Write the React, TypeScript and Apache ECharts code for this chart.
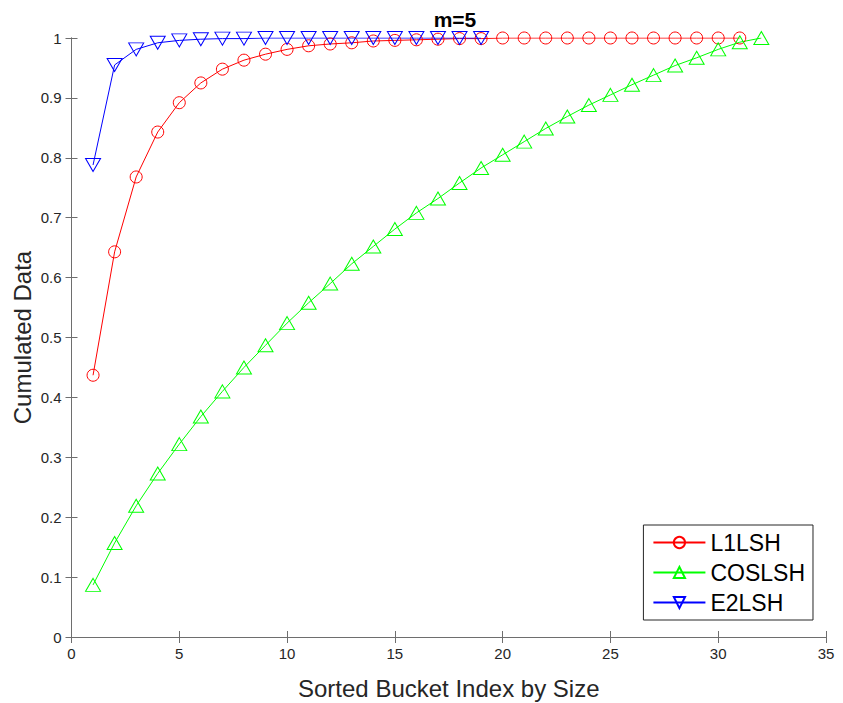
import React, { useEffect, useRef } from "react";
import * as echarts from "echarts";

const xTicks = [0, 5, 10, 15, 20, 25, 30, 35];
const yTicks = [0, 0.1, 0.2, 0.3, 0.4, 0.5, 0.6, 0.7, 0.8, 0.9, 1];

const l1lsh = [
  0.437, 0.643, 0.768, 0.843, 0.892, 0.925, 0.948, 0.963, 0.973, 0.981,
  0.987, 0.99, 0.992, 0.995, 0.996, 0.997, 0.998, 0.999, 0.999, 1,
  1, 1, 1, 1, 1, 1, 1, 1, 1, 1, 1,
];
const coslsh = [
  0.087, 0.157, 0.219, 0.273, 0.322, 0.368, 0.41, 0.45, 0.487, 0.524,
  0.558, 0.59, 0.623, 0.652, 0.681, 0.708, 0.732, 0.758, 0.783, 0.805,
  0.827, 0.849, 0.869, 0.888, 0.905, 0.922, 0.938, 0.954, 0.967, 0.981,
  0.993, 1.0,
];
const e2lsh = [
  0.788, 0.955, 0.981, 0.992, 0.996, 0.998, 0.999, 0.999, 1, 1,
  1, 1, 1, 1, 1, 1, 1, 1, 1,
];

const pairs = (arr: number[]) => arr.map((v, i) => [i + 1, v]);

export default function App() {
  const ref = useRef<HTMLDivElement>(null);
  useEffect(() => {
    const chart = echarts.init(ref.current!, null, { renderer: "svg" });
    const font = "Liberation Sans, Arial, Helvetica, sans-serif";
    const axisColor = "#6e6e6e";
    const labelColor = "#262626";
    const baseAxis = {
      axisLine: { show: true, lineStyle: { color: axisColor, width: 1 } },
      axisTick: { show: true, inside: true, length: 6, lineStyle: { color: axisColor } },
      splitLine: { show: false },
    };
    const mkSeries = (name: string, data: number[], color: string, symbol: string, size: any, rotate = 0) => ({
      name,
      type: "line",
      data: pairs(data),
      symbol,
      symbolSize: size,
      symbolRotate: rotate,
      showSymbol: true,
      lineStyle: { color, width: 1 },
      itemStyle: { color: "rgba(255,255,255,0)", borderColor: color, borderWidth: 1 },
      emphasis: { disabled: true },
    });
    chart.setOption({
      animation: false,
      backgroundColor: "#ffffff",
      textStyle: { fontFamily: font },
      title: {
        text: "m=5",
        left: 450,
        top: 4,
        textAlign: "center",
        textStyle: { fontFamily: font, fontSize: 21, fontWeight: "bold", color: "#000" },
      },
      grid: { left: 71.5, right: 17, top: 38, bottom: 66, containLabel: false, outerBoundsMode: "none" },
      legend: {
        right: 30,
        bottom: 83,
        orient: "vertical",
        itemWidth: 52,
        itemHeight: 14,
        itemGap: 7,
        padding: [6, 8, 6, 9],
        borderColor: "#262626",
        borderWidth: 1,
        backgroundColor: "#fff",
        textStyle: { fontFamily: font, fontSize: 23, color: "#000" },
        data: ["L1LSH", "COSLSH", "E2LSH"],
      },
      xAxis: [
        {
          ...baseAxis,
          type: "value",
          min: 0,
          max: 35,
          interval: 5,
          position: "bottom",
          axisLabel: { fontFamily: font, fontSize: 15, color: labelColor, margin: 9, formatter: (v: number) => (xTicks.includes(v) ? String(v) : "") },
          name: "Sorted Bucket Index by Size",
          nameLocation: "middle",
          nameGap: 39,
          nameMoveOverlap: false,
          nameTextStyle: { fontFamily: font, fontSize: 24, color: labelColor },
        },
        {
          ...baseAxis,
          type: "value",
          min: 0,
          max: 35,
          interval: 5,
          position: "top",
          axisLabel: { show: false },
        },
      ],
      yAxis: [
        {
          ...baseAxis,
          type: "value",
          min: 0,
          max: 1,
          interval: 0.1,
          position: "left",
          axisLabel: {
            fontFamily: font,
            fontSize: 15,
            color: labelColor,
            margin: 10,
            formatter: (v: number) => {
              const r = Math.round(v * 10) / 10;
              return yTicks.includes(r) ? String(r) : "";
            },
          },
          name: "Cumulated Data",
          nameLocation: "middle",
          nameGap: 37,
          nameMoveOverlap: false,
          nameTextStyle: { fontFamily: font, fontSize: 24, color: labelColor },
        },
        {
          ...baseAxis,
          type: "value",
          min: 0,
          max: 1,
          interval: 0.1,
          position: "right",
          axisLabel: { show: false },
        },
      ],
      series: [
        mkSeries("L1LSH", l1lsh, "#ff0000", "circle", 12),
        mkSeries("COSLSH", coslsh, "#00ff00", "triangle", [15, 13]),
        mkSeries("E2LSH", e2lsh, "#0000ff", "triangle", [15, 13], 180),
      ],
    });
    return () => chart.dispose();
  }, []);
  return <div ref={ref} style={{ position: "fixed", left: 0, top: 0, width: 843, height: 703 }} />;
}
